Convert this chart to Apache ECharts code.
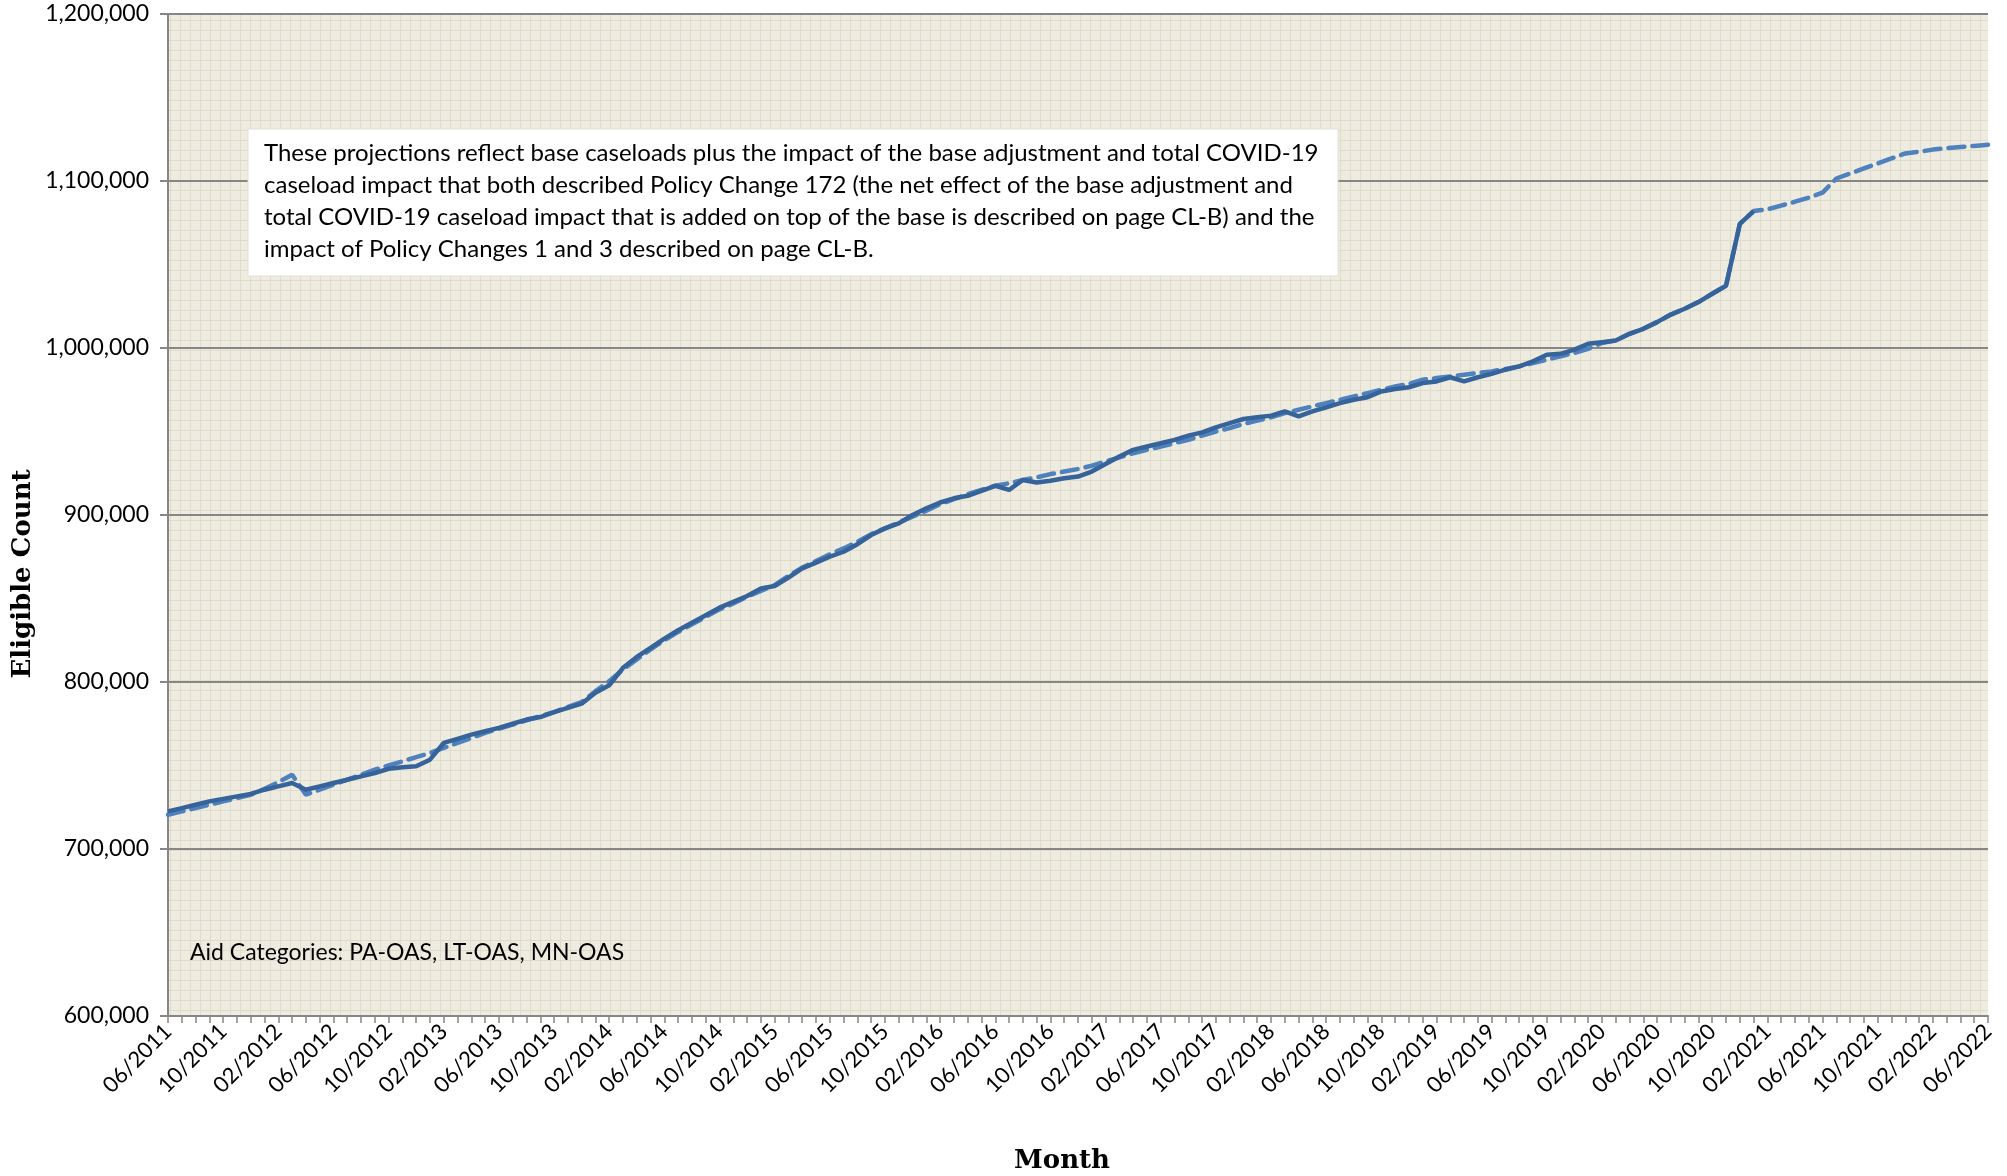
<!DOCTYPE html>
<html>
<head>
<meta charset="utf-8">
<title>Eligible Count</title>
<script src="https://cdn.jsdelivr.net/npm/echarts@6/dist/echarts.min.js"></script>
<style>
  html, body { margin: 0; padding: 0; background: #fff; }
  #main { width: 2007px; height: 1176px; }
</style>
</head>
<body>
<div id="main"></div>
<script>
// month categories 06/2011 .. 06/2022
var months = [];
for (var k = 0; k < 133; k++) {
    var m = (5 + k) % 12 + 1;
    var yr = 2011 + Math.floor((5 + k) / 12);
    months.push((m < 10 ? '0' : '') + m + '/' + yr);
}

// actual eligibles, 06/2011 .. 01/2021
var actual = [
    722500, 724500, 726500, 728500, 730000, 731500, 733000, 735500, 737500, 739500,
    735500, 737500, 739500, 741500, 743500, 745500, 748000, 749000, 749500, 753500,
    763500, 766000, 768500, 770500, 772500, 775000, 777500, 779000, 782000, 784500,
    787000, 793500, 798000, 808500, 815000, 820500, 826000, 831000, 835500, 840000,
    844500, 848000, 851500, 856000, 857500, 862500, 868000, 871500, 875000, 878000,
    882500, 888000, 892000, 895000, 900000, 904000, 907500, 910000, 911500, 914500,
    917500, 915000, 921000, 919500, 920500, 922000, 923000, 926000, 930500, 935000,
    939000, 941000, 943000, 945000, 947500, 949500, 952500, 955000, 957500, 958500,
    959500, 962000, 959000, 962000, 964500, 967000, 969000, 970500, 974000, 975500,
    976500, 979000, 980000, 982500, 980000, 982500, 984500, 987000, 989000, 992000,
    996000, 996500, 999000, 1002500, 1003500, 1004500, 1008500, 1011500, 1015500, 1020000,
    1023500, 1027500, 1032500, 1037300, 1074300, 1082000
];

// fitted / projected eligibles, 06/2011 .. 06/2022
var projected = [
    720500, 722500, 724500, 726500, 728500, 730500, 732500, 736000, 740000, 744500,
    732500, 735500, 738500, 741500, 744500, 747500, 750000, 752500, 755000, 757500,
    760500, 763500, 766500, 769500, 772000, 774500, 777000, 779500, 782000, 785000,
    788000, 794500, 800500, 807500, 813500, 819500, 825000, 830000, 834500, 839000,
    843500, 847000, 851000, 854500, 858000, 863500, 868500, 872500, 876500, 880000,
    884000, 888500, 892000, 895500, 899000, 902500, 906500, 909500, 912500, 915000,
    917500, 919000, 921000, 922500, 924500, 926000, 927500, 929500, 932000, 934500,
    937000, 939000, 941000, 943000, 945000, 947500, 950000, 952000, 954500, 956500,
    958500, 961000, 963000, 965000, 967000, 969000, 971000, 973000, 975000, 977000,
    978500, 981000, 982000, 983000, 984000, 985000, 986000, 987500, 989000, 991000,
    993000, 995000, 997000, 999500, 1003000, 1004500, 1008500, 1011500, 1015500, 1020000,
    1023500, 1027500, 1032500, 1037300, 1074300, 1082000, 1083000, 1085300, 1087600, 1090000,
    1093000, 1101500, 1104500, 1107500, 1110500, 1113500, 1116500, 1117500, 1118800, 1119600,
    1120300, 1121000, 1121700
];

var noteLines = [
    'These projections reflect base caseloads plus the impact of the base adjustment and total COVID-19',
    'caseload impact that both described Policy Change 172 (the net effect of the base adjustment and',
    'total COVID-19 caseload impact that is added on top of the base is described on page CL-B) and the',
    'impact of Policy Changes 1 and 3 described on page CL-B.'
];

// excel-like small grid fill for the plot area
function gridPattern() {
    var c = document.createElement('canvas');
    c.width = 10;
    c.height = 10;
    var g = c.getContext('2d');
    g.fillStyle = '#EEECE1';
    g.fillRect(0, 0, 10, 10);
    g.fillStyle = '#E0DCC9';
    g.fillRect(0, 0, 10, 1);
    g.fillRect(0, 0, 1, 10);
    return c;
}

var myChart = echarts.init(document.getElementById('main'));

var option = {
    animation: false,
    grid: {
        left: 168,
        right: 19,
        top: 14,
        bottom: 160,
        show: true,
        borderWidth: 0,
        backgroundColor: { image: gridPattern(), repeat: 'repeat' }
    },
    xAxis: {
        type: 'category',
        data: months,
        boundaryGap: false,
        axisLine: { lineStyle: { color: '#868686', width: 2 } },
        axisTick: { show: true, interval: 0, length: 7, lineStyle: { color: '#868686', width: 1.5 } },
        axisLabel: {
            interval: 3,
            rotate: 45,
            margin: 12,
            color: '#000',
            fontFamily: 'Lato',
            fontSize: 22
        },
        splitLine: { show: false }
    },
    yAxis: {
        type: 'value',
        min: 600000,
        max: 1200000,
        interval: 100000,
        axisLine: { show: true, lineStyle: { color: '#868686', width: 2 } },
        axisTick: { show: true, length: 8, lineStyle: { color: '#868686', width: 2 } },
        axisLabel: {
            margin: 19,
            color: '#000',
            fontFamily: 'Lato',
            fontSize: 23,
            formatter: function (v) { return v.toLocaleString('en-US'); }
        },
        splitLine: { show: true, lineStyle: { color: '#868686', width: 2 } }
    },
    series: [
        {
            name: 'Projected',
            type: 'line',
            data: projected,
            symbol: 'none',
            z: 2,
            lineStyle: { color: '#4F81BD', width: 4.5, type: [16, 8], cap: 'round' }
        },
        {
            name: 'Actual',
            type: 'line',
            data: actual,
            symbol: 'none',
            z: 3,
            lineStyle: { color: '#36639A', width: 4.5 }
        }
    ],
    graphic: [
        {
            type: 'rect',
            shape: { x: 248, y: 129, width: 1090, height: 147 },
            style: { fill: '#fff', stroke: '#E2E0D6', lineWidth: 1 },
            z: 10
        },
        {
            type: 'text',
            x: 264,
            y: 137,
            z: 11,
            style: {
                text: noteLines.join('\n'),
                font: '24px Lato',
                lineHeight: 32,
                fill: '#000',
                verticalAlign: 'top'
            }
        },
        {
            type: 'text',
            x: 190,
            y: 953,
            z: 11,
            style: {
                text: 'Aid Categories: PA-OAS, LT-OAS, MN-OAS',
                font: '23px Lato',
                fill: '#000',
                verticalAlign: 'middle'
            }
        },
        {
            type: 'text',
            x: 23,
            y: 574,
            rotation: Math.PI / 2,
            style: {
                text: 'Eligible Count',
                font: 'bold 26px "DejaVu Serif"',
                fill: '#000',
                align: 'center',
                verticalAlign: 'middle'
            }
        },
        {
            type: 'text',
            x: 1062,
            y: 1161,
            style: {
                text: 'Month',
                font: 'bold 26px "DejaVu Serif"',
                fill: '#000',
                align: 'center',
                verticalAlign: 'middle'
            }
        }
    ]
};

myChart.setOption(option);
</script>
</body>
</html>
